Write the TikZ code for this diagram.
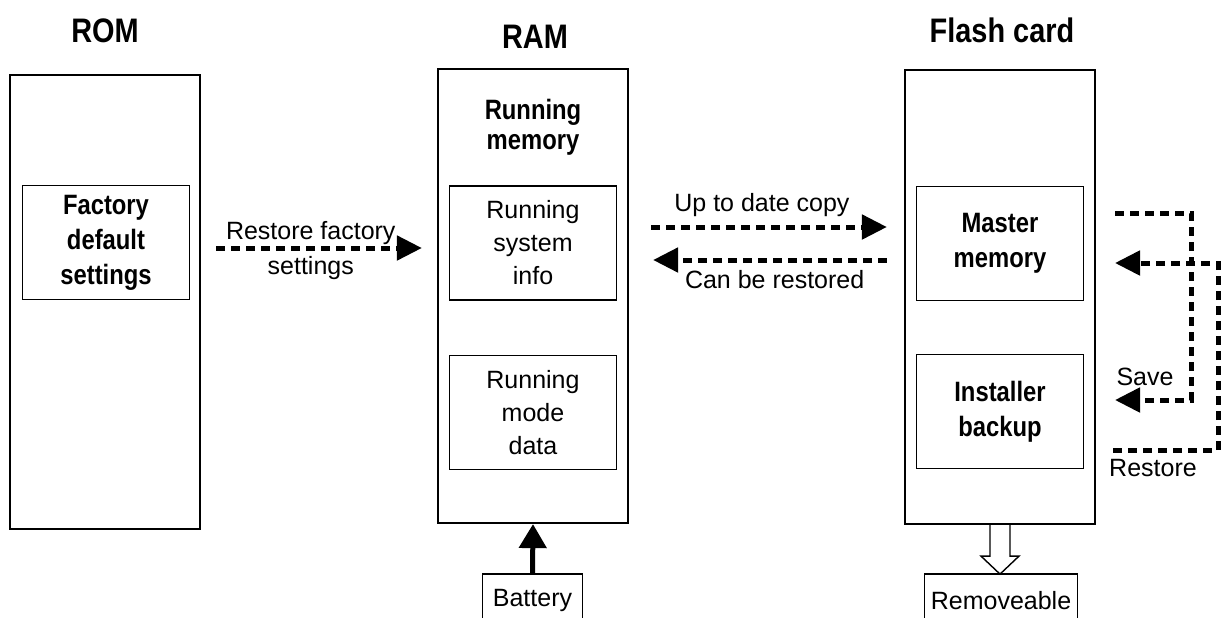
\documentclass[tikz,border=0pt]{standalone}
\usepackage{fontspec}
\setmainfont{Liberation Sans}[BoldFeatures={FakeStretch=0.85}]
\usetikzlibrary{arrows.meta,calc}

\tikzset{
    memory/.style={draw, line width=1.1pt, minimum width=95pt, minimum height=227pt, inner sep=0pt},
    part/.style={draw, line width=0.6pt, minimum width=83.5pt, minimum height=57pt, align=center, inner sep=0pt, font=\fontsize{12.5}{16.5}\selectfont},
    boldpart/.style={part, font=\fontsize{14}{17.5}\selectfont\bfseries},
    title/.style={font=\fontsize{17}{20}\selectfont\bfseries},
    lbl/.style={font=\fontsize{12.5}{15}\selectfont, inner sep=0pt},
    tag/.style={lbl, minimum height=26pt, anchor=north},
    flow/.style={line width=2.5pt, dash pattern=on 4.5pt off 3pt, -{Triangle[length=12.5pt,width=12pt]}},
}

\begin{document}
\begin{tikzpicture}[x=0.5pt,y=-0.5pt]
                \useasboundingbox (0,0) rectangle (1221,617);

                \node[memory] (rom) at (105,302) {};
                \node[title] (romtitle) at (105,31) {ROM};
                \node[boldpart] (factory) at (106,242.5) {Factory\\default\\settings};

                \node[memory] (ram) at (533,296) {};
                \node[title] (ramtitle) at (535,37) {RAM};
                \node[font=\fontsize{14}{15}\selectfont\bfseries, align=center] (running) at (533,127) {Running\\memory};
                \node[part] (sysinfo) at (533,243) {Running\\system\\info};
                \node[part] (modedata) at (533,412.5) {Running\\mode\\data};

                \node[memory] (flash) at (1000,297) {};
                \node[title] (flashtitle) at (1002,30) {Flash card};
                \node[boldpart] (master) at (1000,243.5) {Master\\memory};
                \node[boldpart] (installer) at (1000,411.5) {Installer\\backup};

                \node[tag, minimum width=49.5pt] (battery) at (532.5,574) {Battery};
                \draw[line width=0.6pt] (battery.south west) -- (battery.north west) -- (battery.north east) -- (battery.south east);
                \node[tag, minimum width=76pt] (removable) at (1001,574) {Removeable};
                \draw[line width=0.6pt] (removable.south west) -- (removable.north west) -- (removable.north east) -- (removable.south east);

                % copies between memories
                \draw[flow] ($(rom.east |- factory.east)+(15,5.5)$) -- ($(ram.west |- factory.east)+(-15,5.5)$)
                node[lbl, pos=0.46, yshift=7.5pt] (restorelbl) {Restore factory}
                node[lbl, pos=0.46, yshift=-10pt] (settingslbl) {settings};

                \draw[flow] ($(ram.east |- master.east)+(22,-16.5)$) -- ($(flash.west |- master.west)+(-17,-16.5)$)
                node[lbl, pos=0.47, yshift=11pt] (copylbl) {Up to date copy};

                \draw[flow] ($(flash.west |- master.west)+(-17,16.5)$) -- ($(ram.east |- master.east)+(24,16.5)$)
                node[lbl, pos=0.48, yshift=-10pt] (canlbl) {Can be restored};

                % save and restore on the card
                \coordinate (savefrom) at (1115,213);
                \coordinate (saveto) at (1115,400);
                \coordinate (restorefrom) at (1113,450);
                \coordinate (restoreto) at (1115,263);
                \draw[flow] (savefrom) -- ++(76,0) |- (saveto);
                \draw[flow] (restorefrom) -- ++(105,0) |- (restoreto);
                \node[lbl] (savelbl) at (1145,377) {Save};
                \node[lbl] (restorecardlbl) at (1153,468) {Restore};

                \draw[line width=2.5pt, -{Triangle[length=12pt,width=13.5pt]}] (battery.north) -- (ram.south);
                \draw[line width=0.7pt] (flash.south) ++(-10,0) -- ++(0,31) -- ++(-9,0) -- ++(19,18) -- ++(19,-18) -- ++(-9,0) -- ++(0,-31);
\end{tikzpicture}
\end{document}
